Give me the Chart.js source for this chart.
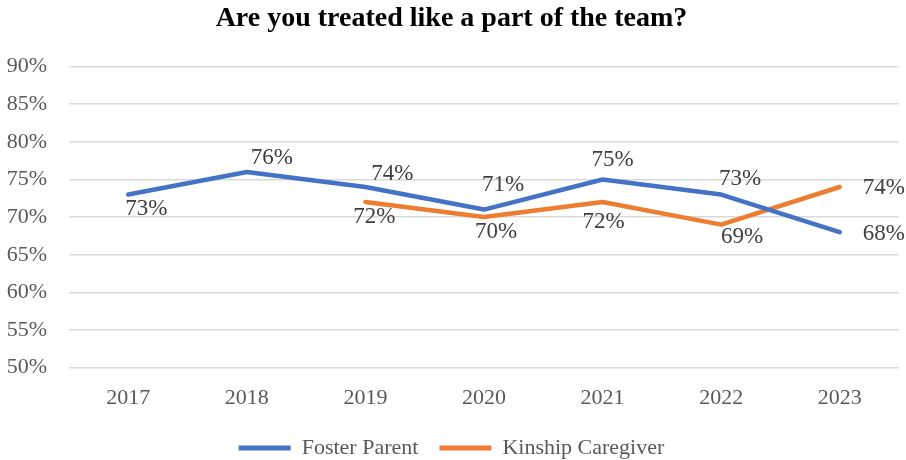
<!DOCTYPE html>
<html>
<head>
<meta charset="utf-8">
<script src="https://cdn.jsdelivr.net/npm/chart.js@4"></script>
<style>
    html, body { margin: 0; padding: 0; background: #fff; }
    #wrap { width: 906px; height: 460px; }
</style>
</head>
<body>
<div id="wrap"><canvas id="teamChart"></canvas></div>
<script>
const years = ["2017", "2018", "2019", "2020", "2021", "2022", "2023"];
const fosterParent = [73, 76, 74, 71, 75, 73, 68];
const kinshipCaregiver = [null, null, 72, 70, 72, 69, 74];
const yTicks = [50, 55, 60, 65, 70, 75, 80, 85, 90];

// where each value label sits relative to its point (dx, dy)
const fosterLabelOffsets = [[18, 14], [25, -14], [27, -13], [19, -25], [10, -20], [19, -16], [44, 2]];
const kinshipLabelOffsets = [null, null, [9, 15], [12, 15], [1, 20], [21, 12], [44, 1]];

const serif = "'Liberation Serif', 'Times New Roman', serif";
const textGrey = "#595959";

const valueLabels = {
    id: "valueLabels",
    afterDatasetsDraw(chart) {
        const ctx = chart.ctx;
        const offsets = [fosterLabelOffsets, kinshipLabelOffsets];
        ctx.save();
        ctx.font = "23px " + serif;
        ctx.fillStyle = "#404040";
        ctx.textAlign = "center";
        ctx.textBaseline = "middle";
        chart.data.datasets.forEach((ds, i) => {
            const meta = chart.getDatasetMeta(i);
            meta.data.forEach((pt, j) => {
                const v = ds.data[j];
                if (v === null || v === undefined) return;
                const off = offsets[i][j] || [0, -14];
                ctx.fillText(v + "%", pt.x + off[0], pt.y + off[1]);
            });
        });
        ctx.restore();
    },
};

// legend keeps wide gaps between items but takes less height
const compactLegend = {
    id: "compactLegend",
    afterInit(chart) {
        const legend = chart.legend;
        if (!legend) return;
        const fit = legend.fit.bind(legend);
        const draw = legend.draw.bind(legend);
        legend.fit = function () {
            fit();
            this.height -= 21;
        };
        legend.draw = function () {
            const c = this.ctx;
            const bottom = this.bottom;
            this.bottom = bottom + 40;
            c.save();
            c.translate(0, -12);
            draw();
            c.restore();
            this.bottom = bottom;
        };
    },
};

function renderTeamChart() {
    const ctx = document.getElementById("teamChart").getContext("2d");

    new Chart(ctx, {
        type: "line",
        data: {
            labels: years,
            datasets: [
                {
                    label: "Foster Parent",
                    data: fosterParent,
                    borderColor: "#4472C4",
                    backgroundColor: "#4472C4",
                    borderWidth: 4.5,
                    borderCapStyle: "round",
                    borderJoinStyle: "round",
                    pointRadius: 0,
                    tension: 0,
                },
                {
                    label: "Kinship Caregiver",
                    data: kinshipCaregiver,
                    borderColor: "#ED7D31",
                    backgroundColor: "#ED7D31",
                    borderWidth: 4.5,
                    borderCapStyle: "round",
                    borderJoinStyle: "round",
                    pointRadius: 0,
                    tension: 0,
                },
            ],
        },
        options: {
            responsive: true,
            maintainAspectRatio: false,
            animation: false,
            layout: {
                padding: { left: 4, right: 7, top: 0, bottom: 0 },
            },
            plugins: {
                title: {
                    display: true,
                    text: "Are you treated like a part of the team?",
                    color: "#000",
                    font: { family: serif, size: 28, weight: "bold" },
                    padding: { top: 2, bottom: 31 },
                },
                legend: {
                    position: "bottom",
                    labels: {
                        color: textGrey,
                        font: { family: serif, size: 22 },
                        boxWidth: 52,
                        boxHeight: 5,
                        padding: 21,
                        generateLabels(chart) {
                            return Chart.defaults.plugins.legend.labels.generateLabels(chart).map((item) => {
                                item.lineWidth = 0;
                                item.fillStyle = item.strokeStyle;
                                return item;
                            });
                        },
                    },
                },
                tooltip: { enabled: false },
            },
            scales: {
                x: {
                    offset: true,
                    grid: { display: false, drawTicks: false },
                    border: { display: false },
                    ticks: {
                        color: textGrey,
                        font: { family: serif, size: 22 },
                        padding: 17,
                    },
                },
                y: {
                    min: 50,
                    max: 90,
                    afterBuildTicks(axis) {
                        axis.ticks = yTicks.map((v) => ({ value: v }));
                    },
                    afterFit(axis) {
                        axis.width = 65;
                    },
                    grid: { color: "#d9d9d9", lineWidth: 1.5, drawTicks: false },
                    border: { display: false },
                    ticks: {
                        color: textGrey,
                        font: { family: serif, size: 22 },
                        padding: 22,
                        callback: (v) => v + "%",
                    },
                },
            },
        },
        plugins: [valueLabels, compactLegend],
    });
}

document.addEventListener("DOMContentLoaded", renderTeamChart);
</script>
</body>
</html>
